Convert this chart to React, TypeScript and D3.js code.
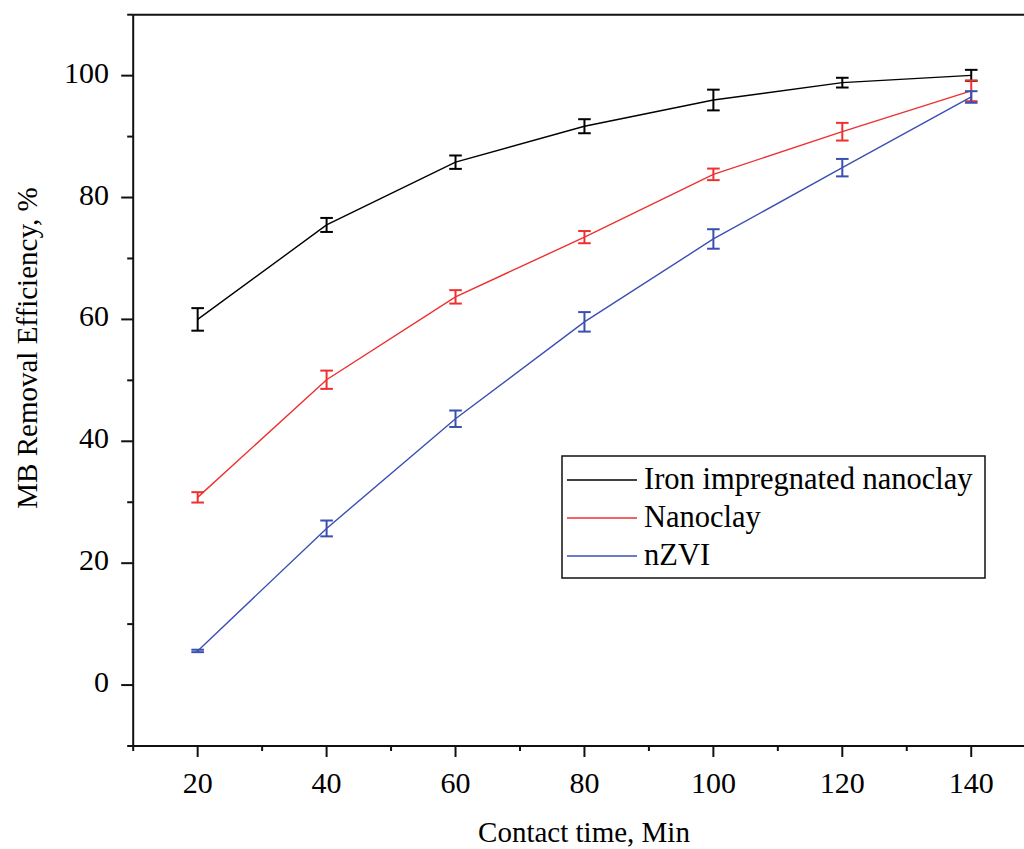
import React from "react";
import * as d3 from "d3";

const times = [20, 40, 60, 80, 100, 120, 140];
const seriesNames = ["Iron impregnated nanoclay", "Nanoclay", "nZVI"];
const ironValues = [60.0, 75.5, 85.8, 91.7, 96.0, 98.85, 100.05];
const ironErrors = [1.85, 1.15, 1.1, 1.15, 1.7, 0.8, 0.9];
const nanoclayValues = [30.8, 50.1, 63.7, 73.5, 83.8, 90.8, 97.5];
const nanoclayErrors = [0.85, 1.5, 1.1, 1.0, 0.95, 1.45, 1.7];
const nzviValues = [5.6, 25.7, 43.7, 59.6, 73.2, 84.9, 96.5];
const nzviErrors = [0.2, 1.3, 1.35, 1.6, 1.6, 1.43, 0.95];
const xMajorTicks = [20, 40, 60, 80, 100, 120, 140];
const xMinorTicks = [10, 30, 50, 70, 90, 110, 130, 150];
const yMajorTicks = [0, 20, 40, 60, 80, 100];
const yMinorTicks = [-10, 10, 30, 50, 70, 90, 110];
const colors = ["#000000", "#ee3030", "#3a4fb2"];

const W = 1024;
const H = 849;
const FONT = "'Liberation Serif', 'Times New Roman', serif";

export default function App() {
  const x = d3.scaleLinear().domain([10, 150]).range([133.2, 1035.7]);
  const y = d3.scaleLinear().domain([-10, 110]).range([746, 14.7]);
  const line = d3
    .line<number>()
    .x((_, i) => x(times[i]))
    .y((d) => y(d));

  const series = [
    { name: seriesNames[0], values: ironValues, errors: ironErrors, color: colors[0] },
    { name: seriesNames[1], values: nanoclayValues, errors: nanoclayErrors, color: colors[1] },
    { name: seriesNames[2], values: nzviValues, errors: nzviErrors, color: colors[2] },
  ];

  const [x0, x1] = x.range();
  const [y0, y1] = y.range();
  const cap = 6.3;
  const legendRows = [480, 518, 556];

  return (
    <svg
      width={W}
      height={H}
      style={{ position: "absolute", left: 0, top: 0, background: "#fff" }}
      fontFamily={FONT}
    >
      <rect x={0} y={0} width={W} height={H} fill="#fff" />
      {/* frame */}
      <line x1={x0} x2={x1} y1={y1} y2={y1} stroke="#111" strokeWidth={2} />
      <line x1={x0} x2={x0} y1={y1} y2={y0} stroke="#111" strokeWidth={2} />
      <line x1={x0} x2={x1} y1={y0} y2={y0} stroke="#111" strokeWidth={2} />
      <line x1={x1} x2={x1} y1={y1} y2={y0} stroke="#111" strokeWidth={2} />
      {/* x ticks */}
      {xMajorTicks.map((t) => (
        <g key={"xm" + t}>
          <line x1={x(t)} x2={x(t)} y1={y0} y2={y0 + 11} stroke="#111" strokeWidth={2} />
          <text x={x(t)} y={793} fontSize={30} textAnchor="middle" fill="#000">
            {t}
          </text>
        </g>
      ))}
      {xMinorTicks.map((t) => (
        <line key={"xn" + t} x1={x(t)} x2={x(t)} y1={y0} y2={y0 + 5} stroke="#111" strokeWidth={2} />
      ))}
      {/* y ticks */}
      {yMajorTicks.map((t) => (
        <g key={"ym" + t}>
          <line x1={x0 - 12} x2={x0} y1={y(t)} y2={y(t)} stroke="#111" strokeWidth={2} />
          <text x={109} y={y(t) + 7} fontSize={30} textAnchor="end" fill="#000">
            {t}
          </text>
        </g>
      ))}
      {yMinorTicks.map((t) => (
        <line key={"yn" + t} x1={x0 - 6} x2={x0} y1={y(t)} y2={y(t)} stroke="#111" strokeWidth={2} />
      ))}
      {/* axis titles */}
      <text x={584} y={842} fontSize={29} textAnchor="middle" fill="#000">
        Contact time, Min
      </text>
      <text
        transform={`translate(37,${348}) rotate(-90)`}
        fontSize={29}
        textAnchor="middle"
        fill="#000"
      >
        MB Removal Efficiency, %
      </text>
      {/* series */}
      {series.map((s) => (
        <g key={s.name}>
          <path d={line(s.values) || ""} fill="none" stroke={s.color} strokeWidth={1.4} />
          {s.values.map((v, i) => {
            const cx = x(times[i]);
            const top = y(v + s.errors[i]);
            const bot = y(v - s.errors[i]);
            return (
              <g key={i} stroke={s.color} strokeWidth={2}>
                <line x1={cx} x2={cx} y1={top} y2={bot} />
                <line x1={cx - cap} x2={cx + cap} y1={top} y2={top} />
                <line x1={cx - cap} x2={cx + cap} y1={bot} y2={bot} />
              </g>
            );
          })}
        </g>
      ))}
      {/* legend */}
      <rect x={562} y={456} width={423} height={122} fill="#fff" stroke="#111" strokeWidth={1.5} />
      {series.map((s, i) => (
        <g key={"lg" + i}>
          <line x1={567} x2={637} y1={legendRows[i]} y2={legendRows[i]} stroke={s.color} strokeWidth={1.5} />
          <text x={644} y={legendRows[i] + 8.5} fontSize={30.5} fill="#000">
            {s.name}
          </text>
        </g>
      ))}
    </svg>
  );
}
